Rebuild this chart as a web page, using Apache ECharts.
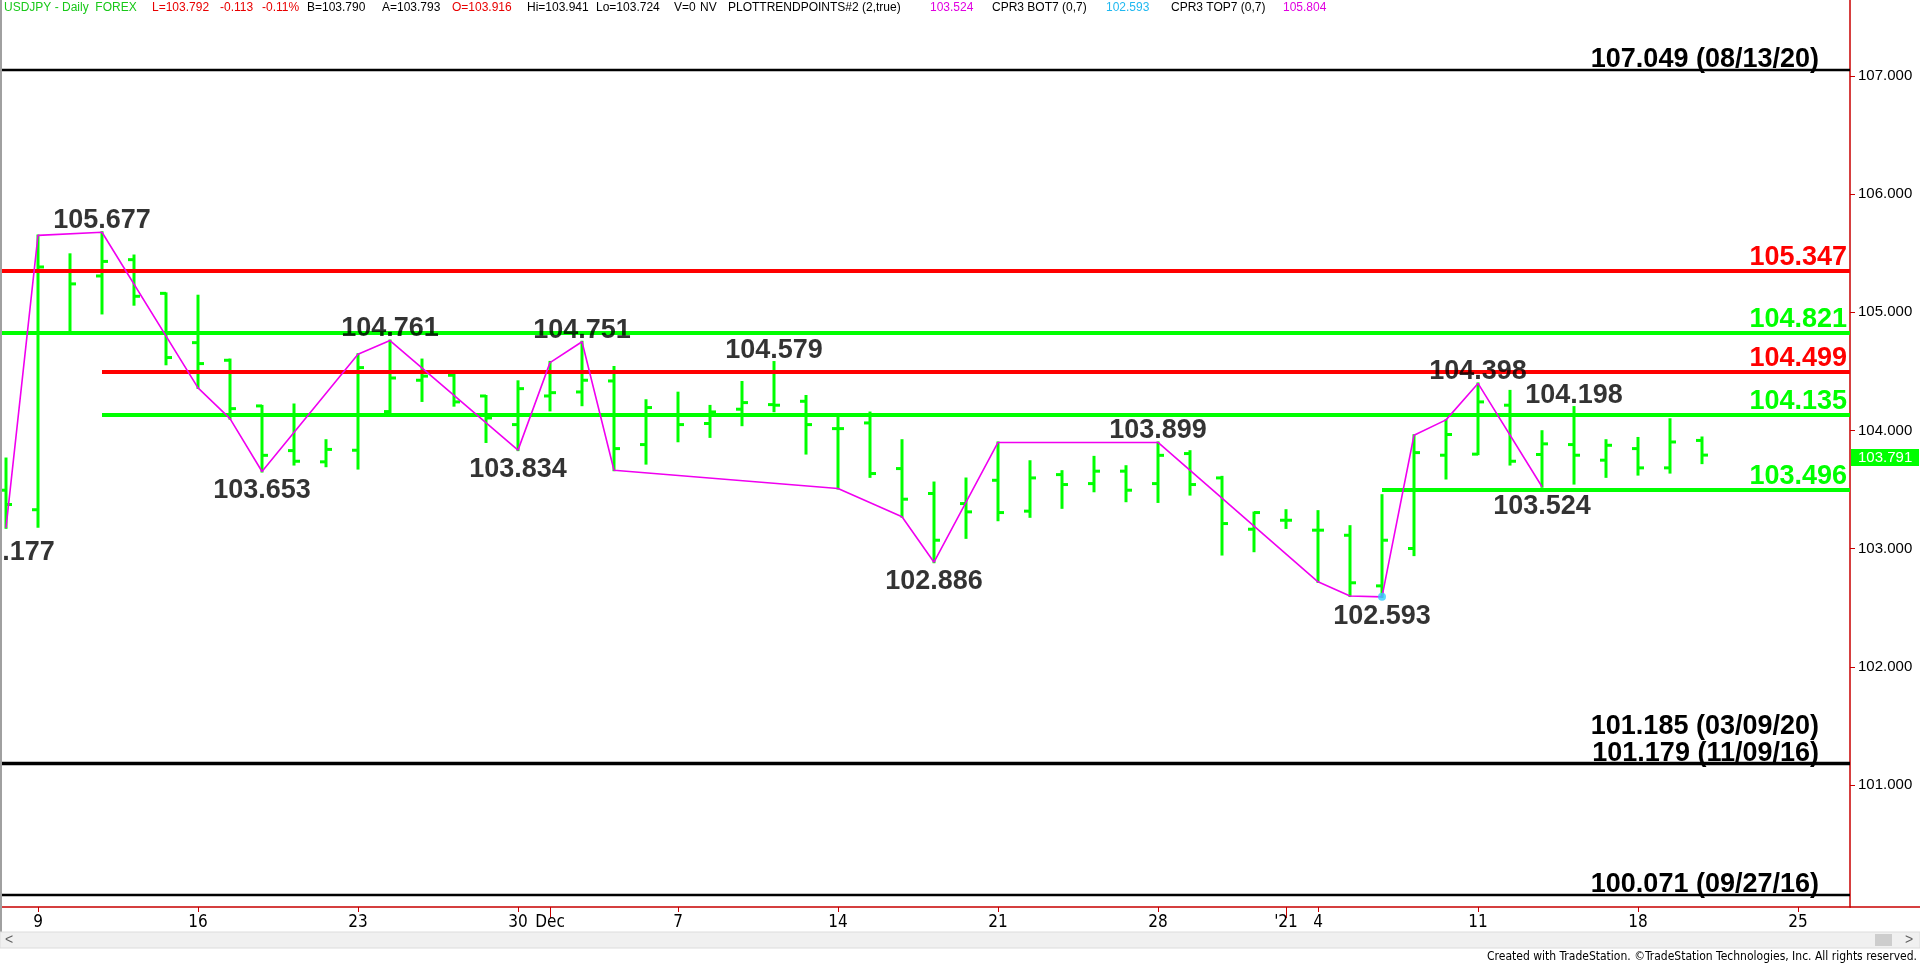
<!DOCTYPE html>
<html><head><meta charset="utf-8">
<script src="https://cdn.jsdelivr.net/npm/echarts@6/dist/echarts.min.js"></script>
<style>html,body{margin:0;padding:0;background:#fff;overflow:hidden}#c{width:1920px;height:963px}</style>
</head><body><div id="c"></div>
<script>
// ---------- DATA ----------
const dates = ['2020-11-06','2020-11-09','2020-11-10','2020-11-11','2020-11-12','2020-11-13','2020-11-16','2020-11-17','2020-11-18','2020-11-19','2020-11-20','2020-11-23','2020-11-24','2020-11-25','2020-11-26','2020-11-27','2020-11-30','2020-12-01','2020-12-02','2020-12-03','2020-12-04','2020-12-07','2020-12-08','2020-12-09','2020-12-10','2020-12-11','2020-12-14','2020-12-15','2020-12-16','2020-12-17','2020-12-18','2020-12-21','2020-12-22','2020-12-23','2020-12-24','2020-12-25','2020-12-28','2020-12-29','2020-12-30','2020-12-31','2021-01-01','2021-01-04','2021-01-05','2021-01-06','2021-01-07','2021-01-08','2021-01-11','2021-01-12','2021-01-13','2021-01-14','2021-01-15','2021-01-18','2021-01-19','2021-01-20'];
const openV  = [103.495,103.330,105.350,105.307,105.445,105.160,104.743,104.594,104.208,103.830,103.735,103.833,104.160,104.425,104.467,104.292,104.050,104.292,104.326,104.419,103.881,104.130,104.059,104.180,104.219,104.247,104.016,104.064,103.678,103.467,103.382,103.579,103.318,103.627,103.551,103.656,103.551,103.805,103.599,103.165,103.241,103.157,103.114,102.686,103.002,103.791,103.800,104.214,103.797,103.881,103.749,103.847,103.684,103.916];
const highV  = [103.763,105.650,105.490,105.677,105.480,105.160,105.140,104.600,104.208,104.220,103.918,104.645,104.761,104.600,104.473,104.292,104.416,104.580,104.751,104.537,104.256,104.320,104.208,104.410,104.579,104.292,104.106,104.152,103.918,103.560,103.594,103.899,103.740,103.656,103.777,103.698,103.899,103.825,103.608,103.306,103.326,103.318,103.191,103.453,103.960,104.087,104.398,104.335,103.994,104.198,103.918,103.937,104.095,103.941];
const lowV   = [103.177,103.185,104.830,104.990,105.064,104.560,104.360,104.100,103.653,103.712,103.698,103.678,104.152,104.250,104.210,103.903,103.834,104.170,104.214,103.664,103.720,103.909,103.946,104.045,104.163,103.805,103.509,103.608,103.270,102.886,103.092,103.241,103.270,103.346,103.486,103.402,103.396,103.458,102.951,102.979,103.176,102.720,102.600,102.593,102.946,103.594,103.800,103.712,103.524,103.551,103.608,103.627,103.644,103.724];
const closeV = [103.374,105.383,105.240,105.430,105.135,104.617,104.566,104.185,103.790,103.740,103.840,104.532,104.444,104.460,104.242,104.106,104.354,104.320,104.425,103.847,104.194,104.050,104.157,104.236,104.214,104.050,104.016,103.636,103.419,103.072,103.312,103.306,103.599,103.543,103.656,103.495,103.790,103.543,103.213,103.306,103.241,103.157,102.712,103.072,103.813,103.966,104.242,103.740,103.887,103.791,103.875,103.684,103.903,103.792];

// trend-point zigzag (bar index, price)
const zigIdx = [0,1,3,6,7,8,11,12,16,17,18,19,26,28,29,31,36,41,42,43,44,45,46,48];
const zigVal = [103.177,105.650,105.677,104.360,104.100,103.653,104.645,104.761,103.834,104.574,104.751,103.664,103.509,103.270,102.886,103.899,103.899,102.720,102.600,102.593,103.960,104.090,104.398,103.524];

// labelled pivots
const pivotIdx  = [0,3,8,12,16,18,24,29,36,43,46,48,49];
const pivotVal  = [103.177,105.677,103.653,104.761,103.834,104.751,104.579,102.886,103.899,102.593,104.398,103.524,104.198];
const pivotSide = ['low','high','low','high','low','high','high','low','high','low','high','low','high'];

// horizontal levels
const levelVal   = [107.049,105.347,104.821,104.499,104.135,103.496,101.185,101.179,100.071];
const levelStart = [null,null,null,3,3,43,null,null,null];
const levelKind  = ['hist','res','sup','res','sup','sup','hist','hist','hist'];
const levelDate  = ['08/13/20','','','','','','03/09/20','11/09/16','09/27/16'];

// CPR3 bottom marker
const markerIdx = [43];
const markerVal = [102.593];

// axis ticks
const xTickPos    = [1,6,11,16,17,21,26,31,36,40,41,46,51,56];
const xTickLabels = ['9','16','23','30','Dec','7','14','21','28',"'21",'4','11','18','25'];
const xMajorTicks = [17,40];
const yTicks = [101,102,103,104,105,106,107];
const lastPrice = 103.791;

const headerParts = [
  ['USDJPY - Daily  FOREX','g'],['L=103.792','r'],['-0.113','r'],['-0.11%','r'],
  ['B=103.790','k'],['A=103.793','k'],['O=103.916','r'],['Hi=103.941','k'],['Lo=103.724','k'],['V=0','k'],
  ['NV','k'],['PLOTTRENDPOINTS#2 (2,true)','k'],['103.524','m'],['CPR3 BOT7 (0,7)','k'],['102.593','c'],
  ['CPR3 TOP7 (0,7)','k'],['105.804','m']
];

// ---------- LAYOUT / STYLE ----------
const headerX = [4,152,220,262,307,382,452,527,596,674,700,728,930,992,1106,1171,1283];
const headerColor = {g:'#18c818', r:'#e80000', k:'#000000', m:'#e000e0', c:'#20b8f0'};
const X_MIN = -0.125, X_MAX = 57.625, Y_MIN = 99.970, Y_MAX = 107.641;
const GREEN = '#00ff00', RED = '#ff0000', MAG = '#ff00ff';
const BIG = 'bold 27px "Liberation Sans", Arial, sans-serif';
const NARROW = '"Liberation Sans Narrow", "DejaVu Sans Condensed", sans-serif';

const chart = echarts.init(document.getElementById('c'), null, {renderer:'canvas'});

const ohlcData = dates.map((d,i)=>[i, openV[i], highV[i], lowV[i], closeV[i]]);
const levelData = levelVal.map((v,i)=>[levelStart[i]===null ? X_MIN : levelStart[i], v]);

function renderBar(params, api){
  const x = api.value(0);
  const pH = api.coord([x, api.value(2)]);
  const pL = api.coord([x, api.value(3)]);
  const pO = api.coord([x, api.value(1)]);
  const pC = api.coord([x, api.value(4)]);
  const st = {stroke: GREEN, lineWidth: 3};
  return {type:'group', children:[
    {type:'line', shape:{x1:pH[0], y1:pH[1]-1, x2:pL[0], y2:pL[1]+1}, style:st},
    {type:'line', shape:{x1:pO[0]-6, y1:pO[1], x2:pO[0], y2:pO[1]}, style:st},
    {type:'line', shape:{x1:pC[0], y1:pC[1], x2:pC[0]+6, y2:pC[1]}, style:st}
  ]};
}

function renderLevel(params, api){
  const i = params.dataIndex;
  const cs = params.coordSys;
  const p = api.coord([api.value(0), api.value(1)]);
  const xEnd = cs.x + cs.width;
  const kind = levelKind[i];
  const color = kind==='res' ? RED : (kind==='sup' ? GREEN : '#000000');
  const y = Math.round(p[1]);
  // lift a historical label that would collide with a lower one
  let lift = 0;
  if (kind==='hist') {
    for (let j=0;j<levelVal.length;j++){
      if (j!==i && levelKind[j]==='hist' && levelVal[j] < levelVal[i]) {
        const py = api.coord([0, levelVal[j]])[1];
        if (py - p[1] < 27) lift = 27 - (py - p[1]);
      }
    }
  }
  const text = kind==='hist' ? levelVal[i].toFixed(3) + ' (' + levelDate[i] + ')' : levelVal[i].toFixed(3);
  return {type:'group', children:[
    {type:'line', shape:{x1:Math.max(p[0], cs.x), y1:y, x2:xEnd, y2:y},
      style:{stroke:color, lineWidth: kind==='hist'?2.5:4}},
    {type:'text', x: kind==='hist' ? xEnd-31 : xEnd-3, y: kind==='hist' ? y+3-lift : y,
      style:{text:text, fill:color, font:BIG, align:'right', verticalAlign:'bottom'}}
  ]};
}

const option = {
  animation:false,
  backgroundColor:'#ffffff',
  grid:{left:2, right:70, top:0, bottom:56, containLabel:false},
  xAxis:[{
    type:'value', min:X_MIN, max:X_MAX, position:'bottom',
    axisLine:{show:true, onZero:false, lineStyle:{color:'#c80000', width:1.5}},
    axisTick:{show:true, customValues:xTickPos, length:5, lineStyle:{color:'#c80000'}},
    axisLabel:{show:true, customValues:xTickPos, margin:7, color:'#000', fontSize:17, fontFamily:NARROW,
      formatter:(v)=>{const k = xTickPos.indexOf(Math.round(v)); return k>=0 ? xTickLabels[k] : '';}},
    splitLine:{show:false}
  },{
    type:'value', min:X_MIN, max:X_MAX, position:'bottom',
    axisLine:{show:false},
    axisTick:{show:true, customValues:xMajorTicks, length:11, lineStyle:{color:'#c80000'}},
    axisLabel:{show:false}, splitLine:{show:false}
  }],
  yAxis:{
    type:'value', position:'right', min:Y_MIN, max:Y_MAX, scale:true,
    axisLine:{show:true, onZero:false, lineStyle:{color:'#c80000', width:1.5}},
    axisTick:{show:true, customValues:yTicks, length:5, lineStyle:{color:'#c80000'}},
    axisLabel:{show:true, customValues:yTicks, margin:8, color:'#000', fontSize:15,
      fontFamily:'"Liberation Sans", Arial, sans-serif', formatter:(v)=>v.toFixed(3)},
    splitLine:{show:false}
  },
  series:[
    {type:'custom', name:'OHLC', renderItem:renderBar, data:ohlcData, z:2,
      encode:{x:0, y:[1,2,3,4]}, clip:false},
    {type:'custom', name:'Levels', renderItem:renderLevel, data:levelData, z:3,
      encode:{x:0, y:1}, clip:false},
    {type:'line', name:'Trend points', data:zigIdx.map((x,i)=>[x, zigVal[i]]), z:4,
      showSymbol:false, symbol:'none', lineStyle:{color:'#f000f0', width:1.6}, silent:true},
    {type:'scatter', name:'CPR3 BOT7', data:markerIdx.map((x,i)=>[x, markerVal[i]]), z:5,
      symbolSize:8, itemStyle:{color:'#33ccff'}},
    {type:'scatter', name:'Pivot labels', z:6, symbolSize:0, silent:true,
      data:pivotIdx.map((x,i)=>({value:[x, pivotVal[i]],
        label:{position: pivotSide[i]==='high' ? 'top' : 'bottom', distance: 2,
               offset: pivotSide[i]==='high' ? [0, 4] : [0, (i===0 ? 9 : 4)]}})),
      label:{show:true, color:'#000', fontSize:27, fontWeight:'bold',
        fontFamily:'"Liberation Sans", Arial, sans-serif',
        formatter:(p)=>p.value[1].toFixed(3)}}
  ]
};
chart.setOption(option);

// ---------- decorations ----------
const yPx = Math.round(chart.convertToPixel({yAxisIndex:0}, lastPrice));
const axisY = Math.round(chart.convertToPixel({yAxisIndex:0}, Y_MIN));
const graphics = [];
headerParts.forEach((h,i)=>{
  graphics.push({type:'text', left:headerX[i], top:2, z:100,
    style:{text:h[0], fill:headerColor[h[1]], font:'12px "Liberation Sans", Arial, sans-serif'}});
});
graphics.push(
  {type:'line', shape:{x1:1, y1:0, x2:1, y2:948}, style:{stroke:'#a0a0a0', lineWidth:2}, z:100},
  {type:'line', shape:{x1:1850, y1:axisY, x2:1920, y2:axisY}, style:{stroke:'#c80000', lineWidth:1.5}, z:100},
  {type:'rect', shape:{x:1851, y:yPx-6, width:68, height:17}, style:{fill:GREEN}, z:100},
  {type:'text', x:1858, y:yPx+3, z:101,
    style:{text:lastPrice.toFixed(3), fill:'#ffffff', font:'15px "Liberation Sans", Arial, sans-serif', verticalAlign:'middle'}},
  {type:'rect', shape:{x:0, y:932, width:1920, height:16}, style:{fill:'#f0f0f0', stroke:'#dcdcdc', lineWidth:1}, z:100},
  {type:'rect', shape:{x:1875, y:934, width:17, height:12}, style:{fill:'#cdcdcd'}, z:101},
  {type:'text', x:5, y:940, z:101, style:{text:'<', fill:'#606060', font:'14px "Liberation Sans", Arial, sans-serif', verticalAlign:'middle'}},
  {type:'text', x:1905, y:940, z:101, style:{text:'>', fill:'#606060', font:'14px "Liberation Sans", Arial, sans-serif', verticalAlign:'middle'}},
  {type:'text', x:1917, y:957, z:101, style:{text:'Created with TradeStation. \u00A9TradeStation Technologies, Inc. All rights reserved.',
    fill:'#000', font:'12px ' + NARROW, align:'right', verticalAlign:'middle'}}
);
chart.setOption({graphic:graphics});
</script></body></html>
